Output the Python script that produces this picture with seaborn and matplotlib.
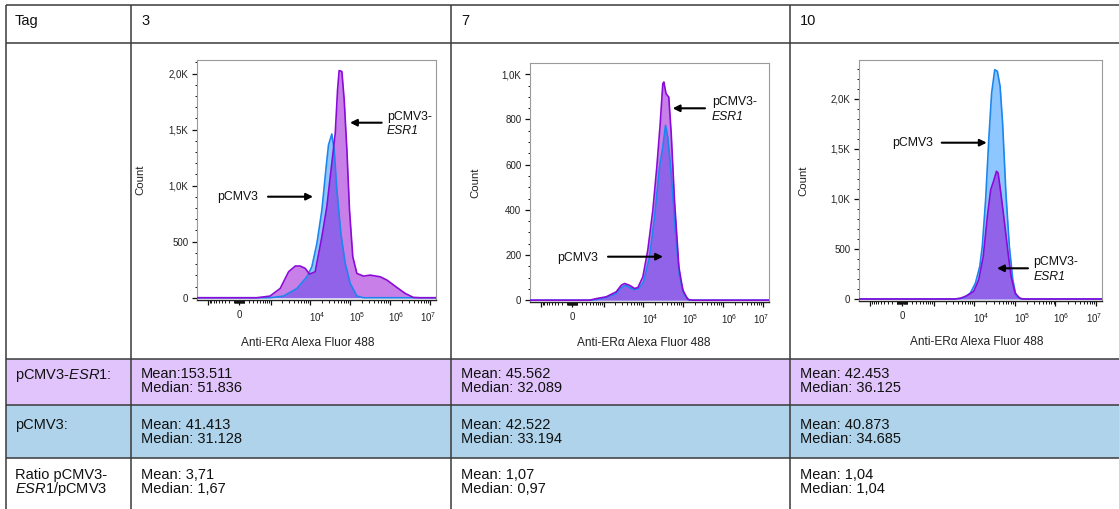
import numpy as np
import matplotlib
matplotlib.use("Agg")
import matplotlib.pyplot as plt
from matplotlib.patches import Rectangle
from matplotlib.ticker import FixedLocator, FixedFormatter
from matplotlib.transforms import ScaledTranslation
import seaborn as sns

# ------------------------------------------------------------------ data
days = ["3", "7", "10"]
esr1_mean = ["Mean:153.511", "Mean: 45.562", "Mean: 42.453"]
esr1_median = ["Median: 51.836", "Median: 32.089", "Median: 36.125"]
ctrl_mean = ["Mean: 41.413", "Mean: 42.522", "Mean: 40.873"]
ctrl_median = ["Median: 31.128", "Median: 33.194", "Median: 34.685"]
ratio_mean = ["Mean: 3,71", "Mean: 1,07", "Mean: 1,04"]
ratio_median = ["Median: 1,67", "Median: 0,97", "Median: 1,04"]

# day 3 histograms (fluorescence intensity, count)
d3_esr1_x = [-1900, 400, 960, 1760, 2870, 4230, 5620, 7500, 9640, 13300, 19600, 26100,
             34700, 42300, 48300, 53000, 61900, 70800, 82700, 96100, 116000, 147000,
             216000, 316000, 564000, 827000, 1470000, 2370000, 3800000, 5600000, 14000000]
d3_esr1_n = [0, 0, 15, 83, 232, 283, 283, 262, 211, 232, 545, 815,
             1200, 1467, 1854, 2027, 2018, 1765, 1318, 783, 366, 217,
             193, 202, 187, 158, 92, 39, 3, 0, 0]
d3_ctrl_x = [-1900, 960, 2145, 4650, 8270, 11000, 14700, 19600, 25100, 28700, 34700,
             39800, 46400, 58400, 75000, 100000, 147000, 216000, 14000000]
d3_ctrl_n = [0, 0, 15, 83, 187, 277, 485, 783, 1170, 1363, 1461,
             1318, 961, 574, 307, 128, 15, 0, 0]

# day 7 histograms
d7_esr1_x = [-1900, 393, 628, 1166, 2100, 2810, 3400, 4540, 6070, 7360, 9780, 13000,
             17400, 21900, 26600, 30900, 32800, 37300, 43600, 50200, 60600, 78000,
             98000, 131000, 174000, 14000000]
d7_esr1_n = [0, 0, 7, 15, 37, 66, 74, 66, 52, 56, 103, 221,
             398, 590, 781, 958, 966, 914, 899, 737, 442, 147,
             44, 3, 0, 0]
d7_ctrl_x = [-1900, 393, 628, 1166, 2100, 2810, 3600, 4540, 6070, 7760, 10200, 14400,
             19200, 25600, 30900, 36100, 41100, 50200, 64400, 81000, 107000, 143000, 14000000]
d7_ctrl_n = [0, 0, 3, 12, 29, 56, 66, 56, 47, 52, 81, 192,
             368, 590, 678, 774, 722, 560, 295, 103, 22, 0, 0]

# day 10 histograms
d10_esr1_x = [-1900, 3400, 4540, 6680, 9780, 13000, 16800, 21200, 25600, 30900, 35500,
              39000, 45400, 54800, 66900, 81000, 102000, 131000, 159000, 14000000]
d10_esr1_n = [0, 0, 7, 33, 77, 193, 427, 827, 1093, 1193, 1277,
              1260, 1060, 793, 493, 227, 60, 10, 0, 0]
d10_ctrl_x = [-1900, 3400, 5500, 8090, 10800, 13800, 15900, 19200, 23200, 27000, 32200,
              37300, 43600, 50200, 60600, 73600, 89400, 107000, 143000, 14000000]
d10_ctrl_n = [0, 0, 10, 60, 160, 327, 527, 993, 1627, 2060, 2293,
              2277, 2127, 1760, 1060, 527, 193, 33, 0, 0]

# axis ticks
x_major = [-1000, 0, 1000, 1e4, 1e5, 1e6, 1e7]
x_major_labels = ["", "0", "", "$10^{4}$", "$10^{5}$", "$10^{6}$", "$10^{7}$"]
y_ticks_a = [0, 500, 1000, 1500, 2000]
y_labels_a = ["0", "500", "1,0K", "1,5K", "2,0K"]
y_ticks_b = [0, 200, 400, 600, 800, 1000]
y_labels_b = ["0", "200", "400", "600", "800", "1,0K"]

# ------------------------------------------------------------------ style
sns.set_theme(style="white")
plt.rcParams["font.family"] = ["Liberation Sans", "DejaVu Sans"]
plt.rcParams["mathtext.fontset"] = "custom"
plt.rcParams["mathtext.rm"] = "Liberation Sans"
plt.rcParams["mathtext.it"] = "Liberation Sans:italic"
plt.rcParams["mathtext.bf"] = "Liberation Sans:bold"

W, H = 1119, 509
fig = plt.figure(figsize=(W / 100, H / 100), dpi=100)
fig.patch.set_facecolor("white")

bg = fig.add_axes([0, 0, 1, 1], zorder=0)
bg.set_xlim(0, W)
bg.set_ylim(H, 0)
bg.axis("off")

LINE = "#3a3a3a"
bg.add_patch(Rectangle((6, 359), W - 6, 46, color="#E1C4FB", lw=0))
bg.add_patch(Rectangle((6, 405), W - 6, 53, color="#AED3EA", lw=0))
for yy in [5, 43, 359, 405, 458]:
    bg.plot([6, W], [yy, yy], color=LINE, lw=1.1, solid_capstyle="butt")
for xx in [6, 131, 451, 790]:
    bg.plot([xx, xx], [5, H], color=LINE, lw=1.1, solid_capstyle="butt")

FS = 10.5
TC = "#111111"
col_x = [141, 461, 800]
bg.text(15, 25, "Tag", fontsize=FS, color=TC, va="baseline")
bg.text(15, 378.5, r"pCMV3-$\mathit{ESR1}$:", fontsize=FS, color=TC, va="baseline")
bg.text(15, 429, "pCMV3:", fontsize=FS, color=TC, va="baseline")
bg.text(15, 479, "Ratio pCMV3-", fontsize=FS, color=TC, va="baseline")
bg.text(15, 493, r"$\mathit{ESR1}$/pCMV3", fontsize=FS, color=TC, va="baseline")
for i, cx in enumerate(col_x):
    bg.text(cx, 25, days[i], fontsize=FS, color=TC, va="baseline")
    bg.text(cx, 378.5, esr1_mean[i], fontsize=FS, color=TC, va="baseline")
    bg.text(cx, 392.5, esr1_median[i], fontsize=FS, color=TC, va="baseline")
    bg.text(cx, 429, ctrl_mean[i], fontsize=FS, color=TC, va="baseline")
    bg.text(cx, 443, ctrl_median[i], fontsize=FS, color=TC, va="baseline")
    bg.text(cx, 479, ratio_mean[i], fontsize=FS, color=TC, va="baseline")
    bg.text(cx, 493, ratio_median[i], fontsize=FS, color=TC, va="baseline")

# ------------------------------------------------------------------ histograms
def biex_fwd(x):
    return np.arcsinh(np.asarray(x, dtype=float) / 336.0) / np.log(10)


def biex_inv(y):
    return 336.0 * np.sinh(np.asarray(y, dtype=float) * np.log(10))


x_minor = ([s * k * 10 ** j for j in (1, 2) for k in range(1, 10) for s in (1, -1)]
           + [k * 10 ** j for j in range(3, 7) for k in range(2, 10)])

BLUE = "#1E90FF"
BLUE_LINE = "#1C86EE"
PURP = "#9400D3"
PURP_LINE = "#8A0BD8"

panels = [
    dict(box=(197, 60, 436, 300), ylim=(-20, 2121), yt=y_ticks_a, yl=y_labels_a, ymin=100,
         ctrl=(d3_ctrl_x, d3_ctrl_n), esr1=(d3_esr1_x, d3_esr1_n),
         xlab=(307.5, 343.3), ylab=140),
    dict(box=(530, 63, 769, 302), ylim=(-8, 1050), yt=y_ticks_b, yl=y_labels_b, ymin=50,
         ctrl=(d7_ctrl_x, d7_ctrl_n), esr1=(d7_esr1_x, d7_esr1_n),
         xlab=(643.7, 343.0), ylab=475),
    dict(box=(859, 60, 1102, 301), ylim=(-20, 2390), yt=y_ticks_a, yl=y_labels_a, ymin=100,
         ctrl=(d10_ctrl_x, d10_ctrl_n), esr1=(d10_esr1_x, d10_esr1_n),
         xlab=(977.0, 341.7), ylab=803),
]

# horizontal shift (px) of each x tick label, as FlowJo draws them
label_shift = [0, 0, 0, 7, 7, 6, -2]

for p in panels:
    l, t, r, b = p["box"]
    ax = fig.add_axes([l / W, 1 - b / H, (r - l) / W, (b - t) / H], zorder=2)
    ax.set_facecolor("white")
    ax.set_xscale("function", functions=(biex_fwd, biex_inv))

    cx, cn = p["ctrl"]
    ex, en = p["esr1"]
    ax.fill_between(cx, cn, 0, color=BLUE, alpha=0.5, lw=0, zorder=1)
    ax.fill_between(ex, en, 0, color=PURP, alpha=0.5, lw=0, zorder=2)
    sns.lineplot(x=cx, y=cn, ax=ax, color=BLUE_LINE, lw=1.2, sort=False,
                 estimator=None, legend=False, zorder=3)
    sns.lineplot(x=ex, y=en, ax=ax, color=PURP_LINE, lw=1.2, sort=False,
                 estimator=None, legend=False, zorder=4)

    ax.set_xlim(-1900, 1.4e7)
    ax.set_ylim(*p["ylim"])

    ax.xaxis.set_major_locator(FixedLocator(x_major))
    ax.xaxis.set_major_formatter(FixedFormatter(x_major_labels))
    ax.xaxis.set_minor_locator(FixedLocator(x_minor))
    ax.yaxis.set_major_locator(FixedLocator(p["yt"]))
    ax.yaxis.set_major_formatter(FixedFormatter(p["yl"]))
    ax.yaxis.set_minor_locator(FixedLocator(list(np.arange(0, p["ylim"][1], p["ymin"]))))

    ax.tick_params(axis="both", which="major", direction="out", length=3.8, width=0.9,
                   color="#111111", labelsize=7.0, labelcolor="#222222")
    ax.tick_params(axis="both", which="minor", direction="out", length=1.8, width=0.7,
                   color="#111111")
    ax.tick_params(axis="x", which="both", bottom=True, top=False, pad=3.5)
    ax.tick_params(axis="y", which="both", left=True, right=False, pad=2.5)

    for side in ["left", "top", "right"]:
        ax.spines[side].set_color("#9a9a9a")
        ax.spines[side].set_linewidth(0.8)
    ax.spines["bottom"].set_color("#222222")
    ax.spines["bottom"].set_linewidth(1.0)

    ax.set_xlabel("Anti-ER\u03b1 Alexa Fluor 488", fontsize=8.6, color="#222222", va="center")
    ax.xaxis.set_label_coords((p["xlab"][0] - l) / (r - l), (b - p["xlab"][1]) / (b - t))
    ax.set_ylabel("Count", fontsize=8.2, color="#222222", va="center")
    ax.yaxis.set_label_coords((p["ylab"] - l) / (r - l), 0.5)

    for lab, dx in zip(ax.xaxis.get_majorticklabels(), label_shift):
        lab.set_transform(lab.get_transform() + ScaledTranslation(dx / 100, 0, fig.dpi_scale_trans))

# ------------------------------------------------------------------ annotations
ov = fig.add_axes([0, 0, 1, 1], zorder=10)
ov.set_xlim(0, W)
ov.set_ylim(H, 0)
ov.axis("off")
ov.patch.set_alpha(0)

AFS = 8.8
arrow_kw = dict(arrowstyle="-|>", color="black", lw=1.5, mutation_scale=10,
                shrinkA=0, shrinkB=0)

def arrow(x0, x1, y):
    ov.annotate("", xy=(x1, y), xytext=(x0, y), arrowprops=arrow_kw, annotation_clip=False)

def label_esr1(x, y, dy=14):
    ov.text(x, y, "pCMV3-", fontsize=AFS, va="center", color=TC)
    ov.text(x, y + dy, "ESR1", fontsize=AFS, va="center", style="italic", color=TC)

# day 3
ov.text(217, 196.7, "pCMV3", fontsize=AFS, va="center", color=TC)
arrow(268, 313, 196.7)
label_esr1(386.7, 116.7)
arrow(381.7, 350, 122.7)
# day 7
label_esr1(711.7, 101.7, 15)
arrow(705, 672.7, 108.3)
ov.text(556.7, 258, "pCMV3", fontsize=AFS, va="center", color=TC)
arrow(608, 663, 256.7)
# day 10
ov.text(891.7, 143.3, "pCMV3", fontsize=AFS, va="center", color=TC)
arrow(941.7, 986.7, 142.7)
label_esr1(1033.3, 261.7, 15)
arrow(1028, 997, 268.3)

fig.savefig("out.png", dpi=100)
